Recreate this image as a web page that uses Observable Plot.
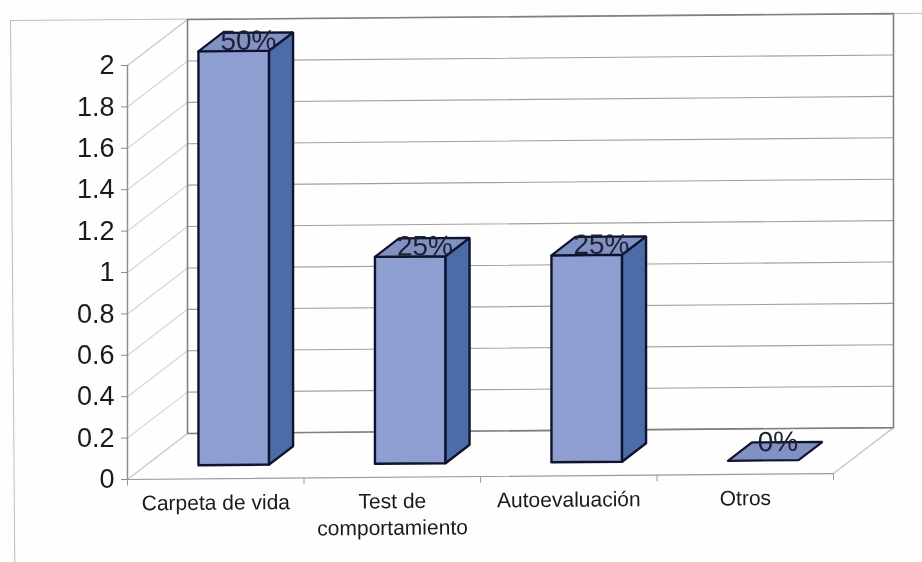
<!DOCTYPE html>
<html><head><meta charset="utf-8">
<script src="https://cdn.jsdelivr.net/npm/d3@7"></script>
<script src="https://cdn.jsdelivr.net/npm/@observablehq/plot@0.6"></script>
<style>html,body{margin:0;padding:0;background:#fefefe;overflow:hidden}svg{display:block;position:relative}
#c{position:relative;width:922px;height:562px;overflow:hidden}
#frame{position:absolute;left:10px;top:20px;width:1000px;height:640px;border:1.5px solid #bdbdbd;transform-origin:0 0;transform:rotate(-0.45deg);filter:blur(.5px)}</style>
</head><body><div id="c"><div id="frame"></div></div>
<script>
const categories = ["Carpeta de vida", "Test de\ncomportamiento", "Autoevaluación", "Otros"];
const values = [2, 1, 1, 0];
const percents = ["50%", "25%", "25%", "0%"];
const valueTicks = [0, 0.2, 0.4, 0.6, 0.8, 1, 1.2, 1.4, 1.6, 1.8, 2];
const tickText = ["0","0.2","0.4","0.6","0.8","1","1.2","1.4","1.6","1.8","2"];
const slots = [0, 1, 2, 3, 4];

// oblique projection of the 3-D chart onto the x/y scales
const DX = 0.34, DY = 0.222, SKEW = 0.0072;
const P = (u, v, w = 0) => ({x: u + w * DX, y: v + w * DY + u * SKEW});
const seg = (id, ...pts) => pts.map(p => ({id, ...P(...p)}));
const U = 4, V = 2;

const backGrid = valueTicks.slice(0, -1).flatMap((v, i) => seg("b" + i, [0, v, 1], [U, v, 1]));
const sideGrid = valueTicks.slice(1, -1).flatMap((v, i) => seg("s" + i, [0, v, 0], [0, v, 1]));
const wallBack = seg("w", [0, 0, 1], [0, V, 1], [U, V, 1], [U, 0, 1], [0, 0, 1]);
const floor = [...seg("f1", [0, 0, 0], [0, 0, 1]), ...seg("f2", [U, 0, 0], [U, 0, 1]), ...seg("f3", [0, V, 0], [0, V, 1])];
const frontX = seg("x", [0, 0, 0], [U, 0, 0]);
const frontY = seg("y", [0, 0, 0], [0, V, 0]);
const xTicks = slots.map(u => ({a: P(u, 0, 0), u}));

const bars = values.map((v, i) => ({v, i, u0: i + 0.3, u1: i + 0.7, w0: 0.3, w1: 0.7}));
const front = bars.filter(b => b.v > 0).flatMap(b => seg(b.i, [b.u0,0,b.w0],[b.u1,0,b.w0],[b.u1,b.v,b.w0],[b.u0,b.v,b.w0],[b.u0,0,b.w0]));
const side = bars.filter(b => b.v > 0).flatMap(b => seg(b.i, [b.u1,0,b.w0],[b.u1,0,b.w1],[b.u1,b.v,b.w1],[b.u1,b.v,b.w0],[b.u1,0,b.w0]));
const top_ = bars.flatMap(b => seg(b.i, [b.u0,b.v,b.w0],[b.u1,b.v,b.w0],[b.u1,b.v,b.w1],[b.u0,b.v,b.w1],[b.u0,b.v,b.w0]));

const pctLabels = bars.map((b, i) => ({...P(i + 0.515, b.v > 0 ? b.v : 0.04, 0.5), t: percents[i]}));
const catLabels = categories.map((t, i) => ({...P(i + 0.5, 0, 0), t}));

const barStroke = "#0e1430";
const font = "'Liberation Sans', Arial, sans-serif";

const chart = Plot.plot({
  width: 922, height: 562,
  marginLeft: 127, marginRight: 89, marginTop: 65, marginBottom: 83,
  style: {background: "transparent", fontFamily: font, filter: "blur(0.55px)"},
  x: {domain: [0, 4], axis: null},
  y: {domain: [0, 2]},
  marks: [
    Plot.line(floor, {x: "x", y: "y", z: "id", stroke: "#c8c8c8", strokeWidth: 1.4}),
    Plot.line(sideGrid, {x: "x", y: "y", z: "id", stroke: "#d6d6d6", strokeWidth: 1.2}),
    Plot.line(backGrid, {x: "x", y: "y", z: "id", stroke: "#a0a0a0", strokeWidth: 1.1}),
    Plot.line(wallBack, {x: "x", y: "y", z: "id", stroke: "#808080", strokeWidth: 1.6}),
    Plot.line(frontX, {x: "x", y: "y", z: "id", stroke: "#9a9a9a", strokeWidth: 1.2}),
    Plot.line(frontY, {x: "x", y: "y", z: "id", stroke: "#8c8c8c", strokeWidth: 1.4}),
    Plot.link(xTicks, {x1: d => d.a.x, y1: d => d.a.y, x2: d => d.a.x, y2: d => d.a.y - 0.03, stroke: "#9a9a9a"}),
    Plot.axisY({
      ticks: valueTicks, tickFormat: (d, i) => tickText[i], tickSize: 6, tickPadding: 7,
      fontSize: 27, label: null, stroke: "#8c8c8c", fill: "#1a1a1a"
    }),
    Plot.line(front, {x: "x", y: "y", z: "id", fill: "#8e9ed1", stroke: barStroke, strokeWidth: 2.4, strokeLinejoin: "miter"}),
    Plot.line(side, {x: "x", y: "y", z: "id", fill: "#4c6ca8", stroke: barStroke, strokeWidth: 2.4, strokeLinejoin: "miter"}),
    Plot.line(top_, {x: "x", y: "y", z: "id", fill: "#8291c3", stroke: barStroke, strokeWidth: 2.2, strokeLinejoin: "miter"}),
    Plot.text(pctLabels, {x: "x", y: "y", text: "t", fontSize: 28, fill: "#1d2030", rotate: -0.45, dy: -1}),
    Plot.text(catLabels, {x: "x", y: "y", text: "t", fontSize: 21, fill: "#1a1a1a", lineAnchor: "top", dy: 12, lineHeight: 1.27, rotate: -0.45})
  ]
});
document.getElementById("c").appendChild(chart);
</script></body></html>
